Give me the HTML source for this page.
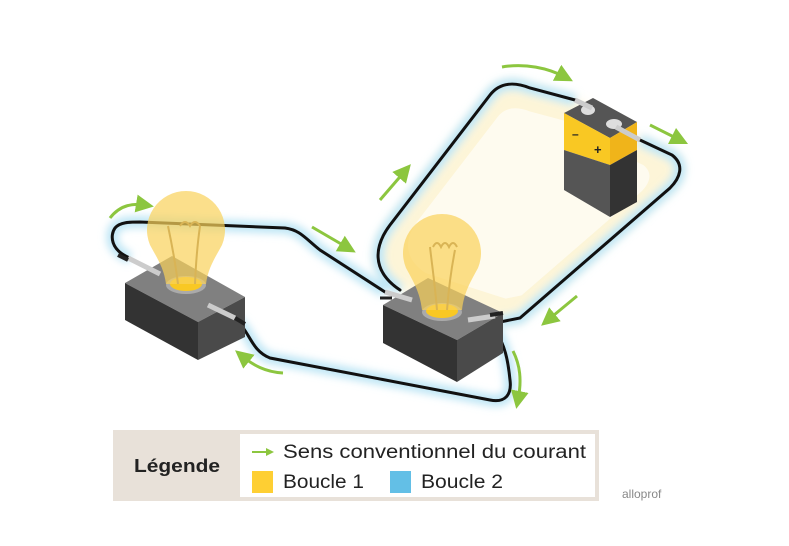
<!DOCTYPE html>
<html><head><meta charset="utf-8"><style>
html,body{margin:0;padding:0;background:#fff;}
svg{display:block;}
text{font-family:"Liberation Sans",sans-serif;}
</style></head><body>
<svg width="789" height="546" viewBox="0 0 789 546" xmlns="http://www.w3.org/2000/svg">
<defs>
<filter id="glow" x="-20%" y="-20%" width="140%" height="140%"><feGaussianBlur stdDeviation="4"/></filter>
<filter id="soft" x="-20%" y="-20%" width="140%" height="140%"><feGaussianBlur stdDeviation="6"/></filter>
<marker id="ah" markerWidth="6" markerHeight="6" refX="3" refY="3" orient="auto" markerUnits="strokeWidth"><path d="M0,0 L6,3 L0,6 z" fill="#8cc63f"/></marker>
</defs>
<!-- loop 1 yellow fill -->
<path d="M400,290 C370,270 375,245 390,225 L490,95 C500,82 515,82 530,88 L575,100 L640,140 L672,155 C685,165 680,178 670,188 L520,318 L500,322 Z" fill="#fdf1c8" opacity="0.7" filter="url(#soft)"/>
<path d="M400,290 C370,270 375,245 390,225 L490,95 C500,82 515,82 530,88 L575,100 L640,140 L672,155 C685,165 680,178 670,188 L520,318 L500,322 Z" fill="#fff" opacity="0.6" transform="translate(528,205) scale(0.8) translate(-528,-205)"/>
<!-- glows -->
<g fill="none" stroke="#bfe6f5" stroke-width="12" filter="url(#glow)">
<path d="M400,290 C370,270 375,245 390,225 L490,95 C500,82 515,82 530,88 L575,100"/>
<path d="M640,140 L672,155 C685,165 680,178 670,188 L520,318 L500,322"/>
<path d="M130,258 C110,250 110,235 115,228 C120,222 130,222 140,222 L285,228 C300,230 305,238 320,250 L385,292"/>
<path d="M235,320 C250,330 250,350 270,358 L490,400 C505,403 512,395 510,380 C508,360 505,345 495,330"/>
</g>
<!-- wires -->
<g fill="none" stroke="#111" stroke-width="3" stroke-linecap="round">
<path d="M400,290 C370,270 375,245 390,225 L490,95 C500,82 515,82 530,88 L575,100"/>
<path d="M640,140 L672,155 C685,165 680,178 670,188 L520,318 L500,322"/>
<path d="M130,258 C110,250 110,235 115,228 C120,222 130,222 140,222 L285,228 C300,230 305,238 320,250 L385,292"/>
<path d="M235,320 C250,330 250,350 270,358 L490,400 C505,403 512,395 510,380 C508,360 505,345 495,330"/>
</g>
<!-- left box -->
<polygon points="125,283 172,256 245,297 198,322" fill="#808080"/>
<polygon points="125,283 198,322 198,360 125,320" fill="#333"/>
<polygon points="198,322 245,297 245,337 198,360" fill="#4a4a4a"/>
<ellipse cx="186" cy="285" rx="20" ry="9" fill="#aaa"/>
<ellipse cx="186" cy="284" rx="16" ry="7" fill="#f9c823"/>
<path d="M150,245 A39,39 0 1 1 222,245 C215,258 208,268 206,284 L166,284 C164,268 157,258 150,245 Z" fill="#f9d25a" opacity="0.7"/>
<path d="M178,284 C175,260 172,245 168,226 M195,284 C196,260 198,240 200,226 M180,226 q5,-8 10,0 q5,-8 10,0" stroke="#d9b455" stroke-width="2" fill="none"/>
<path d="M128,258 L160,274" stroke="#ccc" stroke-width="5"/><path d="M118,255 L128,260" stroke="#222" stroke-width="4"/>
<path d="M208,305 L235,318" stroke="#ccc" stroke-width="5"/><path d="M235,318 L245,324" stroke="#222" stroke-width="4"/>
<!-- middle box -->
<polygon points="383,305 428,278 503,313 457,340" fill="#808080"/>
<polygon points="383,305 457,340 457,382 383,343" fill="#333"/>
<polygon points="457,340 503,313 503,353 457,382" fill="#4a4a4a"/>
<ellipse cx="442" cy="312" rx="20" ry="9" fill="#aaa"/>
<ellipse cx="442" cy="311" rx="16" ry="7" fill="#f9c823"/>
<path d="M406,268 A39,39 0 1 1 478,268 C471,281 464,292 462,310 L422,310 C420,292 413,281 406,268 Z" fill="#f9d25a" opacity="0.7"/>
<path d="M437,310 C435,285 432,265 430,247 M447,310 C449,285 452,265 455,250 M433,247 q4,-8 8,0 q4,-8 8,0 q4,-8 8,0" stroke="#d9b455" stroke-width="2" fill="none"/>
<path d="M385,292 L412,300" stroke="#ccc" stroke-width="5"/><path d="M380,298 L392,298" stroke="#222" stroke-width="3"/>
<path d="M468,320 L495,316" stroke="#ccc" stroke-width="5"/><path d="M490,315 L503,313" stroke="#222" stroke-width="4"/>
<!-- battery -->
<polygon points="564,113 593,98 637,122 610,138" fill="#555"/>
<polygon points="564,113 610,138 610,165 564,150" fill="#f9c823"/>
<polygon points="610,138 637,122 637,150 610,165" fill="#f0b41a"/>
<polygon points="564,150 610,165 610,217 564,190" fill="#555"/>
<polygon points="610,165 637,150 637,202 610,217" fill="#333"/>
<text x="572" y="138" font-size="12" font-weight="bold" fill="#222">–</text>
<text x="594" y="154" font-size="13" font-weight="bold" fill="#222">+</text>
<ellipse cx="588" cy="110" rx="7" ry="5" fill="#ddd"/>
<ellipse cx="614" cy="124" rx="8" ry="5" fill="#ddd"/>
<path d="M575,100 L592,108" stroke="#ccc" stroke-width="5"/>
<path d="M616,127 L640,140" stroke="#ccc" stroke-width="5"/>
<!-- green arrows -->
<g fill="none" stroke="#8cc63f" stroke-width="3" marker-end="url(#ah)">
<path d="M110,218 C120,205 133,203 145,205"/>
<path d="M312,227 L348,248"/>
<path d="M380,200 L405,171"/>
<path d="M502,67 C525,63 548,68 565,77"/>
<path d="M650,125 L680,140"/>
<path d="M577,296 L548,320"/>
<path d="M513,351 C520,365 522,380 518,400"/>
<path d="M283,373 C265,372 253,365 242,356"/>
</g>
<!-- legend -->
<rect x="113" y="430" width="486" height="71" fill="#e8e1d9"/>
<rect x="240" y="434" width="355" height="63" fill="#fff"/>
<text x="177" y="472" font-size="18" font-weight="bold" text-anchor="middle" fill="#222" textLength="86" lengthAdjust="spacingAndGlyphs">Légende</text>
<path d="M252,452 L268,452" stroke="#8cc63f" stroke-width="2"/><path d="M266,448 L274,452 L266,456 z" fill="#8cc63f"/>
<text x="283" y="458" font-size="19" fill="#222" textLength="303" lengthAdjust="spacingAndGlyphs">Sens conventionnel du courant</text>
<rect x="252" y="471" width="21" height="22" fill="#fecf33"/>
<text x="283" y="488" font-size="19" fill="#222" textLength="81" lengthAdjust="spacingAndGlyphs">Boucle 1</text>
<rect x="390" y="471" width="21" height="22" fill="#63bfe6"/>
<text x="421" y="488" font-size="19" fill="#222" textLength="82" lengthAdjust="spacingAndGlyphs">Boucle 2</text>
<text x="622" y="498" font-size="12" fill="#888">alloprof</text>
</svg>
</body></html>
